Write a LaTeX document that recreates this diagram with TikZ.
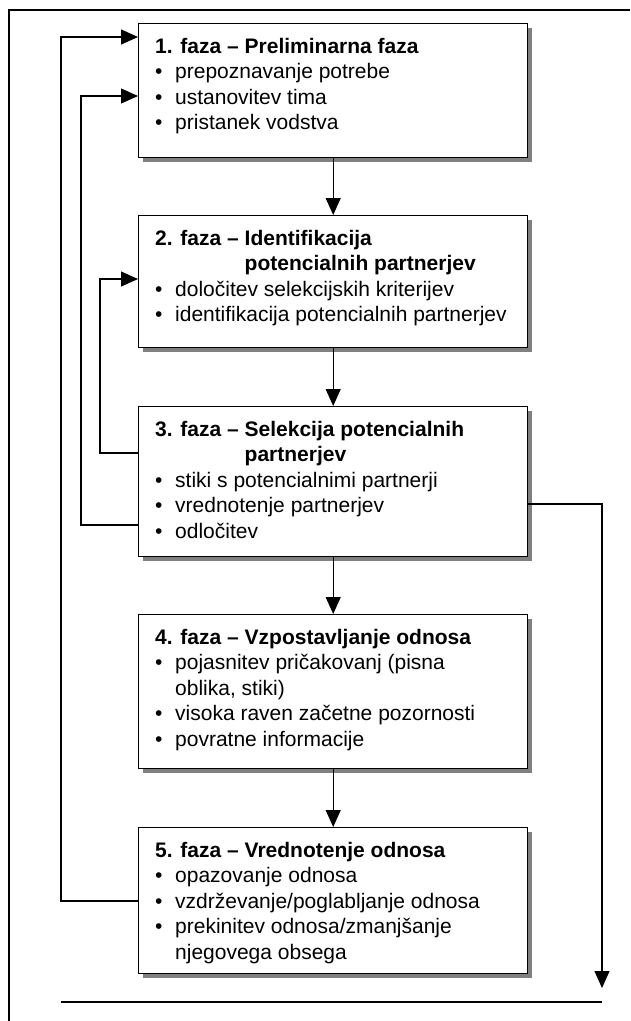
\documentclass[tikz,border=0pt]{standalone}
\usepackage{fontspec}
\setmainfont{Liberation Sans}
\usetikzlibrary{arrows.meta,shadows}
\newcommand\itembul{\makebox[20pt][l]{•}}
\begin{document}
\begin{tikzpicture}[x=1pt,y=-1pt,
  phase/.style={draw=black, line width=1.4pt, fill=white, anchor=north west,
    inner sep=0pt, minimum width=389pt,
    drop shadow={shadow xshift=4pt, shadow yshift=-4pt, fill=black!50, opacity=1}},
  ttl/.style={anchor=base west, inner sep=0pt, font=\fontsize{21}{25.5}\selectfont\bfseries},
  itm/.style={anchor=base west, inner sep=0pt, font=\fontsize{21}{25.5}\selectfont},
  link/.style={line width=1.1pt},
  arr/.style={link, -{Triangle[length=17pt,width=15pt]}}]
\useasboundingbox (0,0) rectangle (630,1021);

% outer frame (open to the right and bottom)
\draw[link] (630,10) -- (9,10) -- (9,1021);

% phase boxes
\node[phase, minimum height=134pt] (b1) at (138,23) {};
\node[phase, minimum height=132pt] (b2) at (138,215) {};
\node[phase, minimum height=150pt] (b3) at (138,406) {};
\node[phase, minimum height=154pt] (b4) at (138,614) {};
\node[phase, minimum height=146pt] (b5) at (138,827) {};

% phase 1
\node[ttl] (t1)  at (155,53)    {1. faza – Preliminarna faza};
\node[itm] (t1a) at (155,78.5)  {\itembul prepoznavanje potrebe};
\node[itm] (t1b) at (155,104)   {\itembul ustanovitev tima};
\node[itm] (t1c) at (155,129.5) {\itembul pristanek vodstva};

% phase 2
\node[ttl] (t2)  at (155,245)   {2. faza – Identifikacija};
\node[ttl] (t2x) at (155,270.5) {\phantom{2. faza – }potencialnih partnerjev};
\node[itm] (t2a) at (155,296)   {\itembul določitev selekcijskih kriterijev};
\node[itm] (t2b) at (155,321.5) {\itembul identifikacija potencialnih partnerjev};

% phase 3
\node[ttl] (t3)  at (155,436)   {3. faza – Selekcija potencialnih};
\node[ttl] (t3x) at (155,461.5) {\phantom{3. faza – }partnerjev};
\node[itm] (t3a) at (155,487)   {\itembul stiki s potencialnimi partnerji};
\node[itm] (t3b) at (155,512.5) {\itembul vrednotenje partnerjev};
\node[itm] (t3c) at (155,538)   {\itembul odločitev};

% phase 4
\node[ttl] (t4)  at (155,644)   {4. faza – Vzpostavljanje odnosa};
\node[itm] (t4a) at (155,669.5) {\itembul pojasnitev pričakovanj (pisna};
\node[itm] (t4b) at (175,695)   {oblika, stiki)};
\node[itm] (t4c) at (155,720.5) {\itembul visoka raven začetne pozornosti};
\node[itm] (t4d) at (155,746)   {\itembul povratne informacije};

% phase 5
\node[ttl] (t5)  at (155,857)   {5. faza – Vrednotenje odnosa};
\node[itm] (t5a) at (155,882.5) {\itembul opazovanje odnosa};
\node[itm] (t5b) at (155,908)   {\itembul vzdrževanje/poglabljanje odnosa};
\node[itm] (t5c) at (155,933.5) {\itembul prekinitev odnosa/zmanjšanje};
\node[itm] (t5d) at (175,959)   {njegovega obsega};

% main sequence
\draw[arr] (b1.south) -- (b2.north);
\draw[arr] (b2.south) -- (b3.north);
\draw[arr] (b3.south) -- (b4.north);
\draw[arr] (b4.south) -- (b5.north);

% attachment points on the box sides
\coordinate (in1)   at ([yshift=-14pt]b1.north west);
\coordinate (in2)   at ([yshift=-73pt]b1.north west);
\coordinate (in3)   at ([yshift=-64pt]b2.north west);
\coordinate (out3a) at ([yshift=-47pt]b3.north west);
\coordinate (out3b) at ([yshift=-119pt]b3.north west);
\coordinate (out3r) at ([yshift=-98pt]b3.north east);
\coordinate (out5)  at ([yshift=-74pt]b5.north west);

% feedback rails and exit
\coordinate (railA) at (61,0);
\coordinate (railB) at (81,0);
\coordinate (railC) at (100,0);
\coordinate (railR) at (602,0);
\coordinate (exit)  at (602,988);

\draw[arr] (out5)  -- (railA |- out5)  -- (railA |- in1) -- (in1);
\draw[arr] (out3b) -- (railB |- out3b) -- (railB |- in2) -- (in2);
\draw[arr] (out3a) -- (railC |- out3a) -- (railC |- in3) -- (in3);
\draw[arr] (out3r) -- (railR |- out3r) -- (exit);

% closing rule
\coordinate (ruleL) at (61,1002);
\coordinate (ruleR) at (602,1002);
\draw[link] (ruleL) -- (ruleR);
\end{tikzpicture}
\end{document}
